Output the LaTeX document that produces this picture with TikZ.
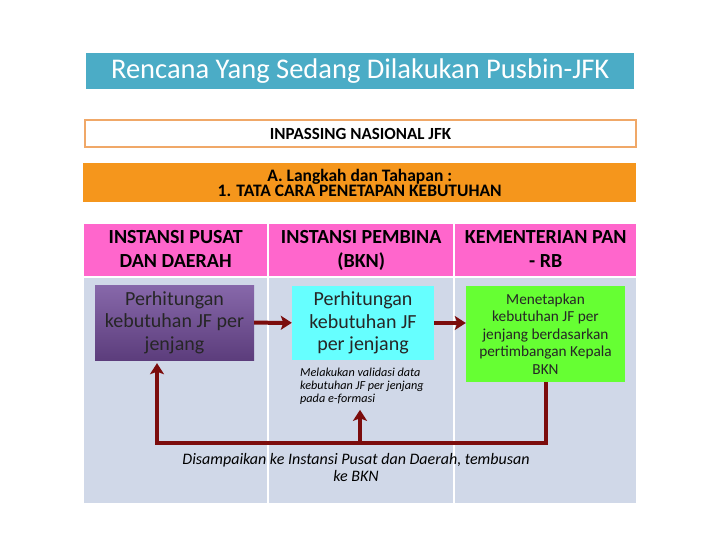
\documentclass[tikz,border=0pt]{standalone}
\usepackage{fontspec}
\setmainfont{Carlito}
\usetikzlibrary{arrows.meta}
\definecolor{titleblue}{HTML}{4BACC6}
\definecolor{inborder}{HTML}{F0A868}
\definecolor{barorange}{HTML}{F5961C}
\definecolor{headpink}{HTML}{FF66CC}
\definecolor{bodygray}{HTML}{D0D8E8}
\definecolor{purpletop}{HTML}{8768AA}
\definecolor{purplebot}{HTML}{5C3D7C}
\definecolor{boxcyan}{HTML}{66FFFF}
\definecolor{boxgreen}{HTML}{66FF33}
\definecolor{flowred}{HTML}{7B0C0C}
\tikzset{
  cell/.style={anchor=north west, inner sep=0pt, align=center},
  hdcell/.style={cell, fill=headpink, minimum height=52pt, font=\fontsize{20}{24}\selectfont\bfseries},
  bdcell/.style={cell, fill=bodygray, minimum height=225pt},
  stepbox/.style={inner sep=0pt, align=center, text=black!85, font=\fontsize{20}{22.5}\selectfont},
  flow/.style={-{Stealth[length=11pt,width=14pt,inset=2.5pt]}, line width=4pt, draw=flowred},
}
\begin{document}
\begin{tikzpicture}[x=1pt,y=-1pt]
\useasboundingbox[fill=white] (0,0) rectangle (720,540);
%heading bars
\node[cell, fill=titleblue, minimum width=548pt, minimum height=36pt, text=white, font=\fontsize{28.5}{30}\selectfont] at (86,53) (title) {Rencana Yang Sedang Dilakukan Pusbin-JFK};
\node[cell, fill=white, draw=inborder, line width=2pt, minimum width=551pt, minimum height=27pt, font=\fontsize{17}{18}\selectfont\bfseries] at (84,119) (inpassing) {INPASSING NASIONAL JFK};
\node[cell, fill=barorange, minimum width=553pt, minimum height=39pt, font=\fontsize{17.5}{15.5}\selectfont\bfseries] at (83,163) (steps) {A. Langkah dan Tahapan :\\1. TATA CARA PENETAPAN KEBUTUHAN};
%table
\node[hdcell, minimum width=183pt] at (84,224) (hdA) {INSTANSI PUSAT\\DAN DAERAH\vphantom{()}};
\node[hdcell, minimum width=184pt] at (269,224) (hdB) {INSTANSI PEMBINA\\(BKN)};
\node[hdcell, minimum width=181pt] at (455,224) (hdC) {KEMENTERIAN PAN\\- RB\vphantom{()}};
\node[bdcell, minimum width=183pt] at (84,278) (bdA) {};
\node[bdcell, minimum width=184pt] at (269,278) (bdB) {};
\node[bdcell, minimum width=181pt] at (455,278) (bdC) {};
%boxes
\node[stepbox, top color=purpletop, bottom color=purplebot, minimum width=159pt, minimum height=75pt] at (174.5,322.5) (purple) {Perhitungan\\kebutuhan JF per\\jenjang};
\node[stepbox, fill=boxcyan, minimum width=142pt, minimum height=74pt] at (363,323) (cyan) {Perhitungan\\kebutuhan JF\\per jenjang};
\node[stepbox, fill=boxgreen, minimum width=159pt, minimum height=96pt, font=\fontsize{15.3}{17.5}\selectfont] at (545.5,334) (green) {Menetapkan\\kebutuhan JF per\\jenjang berdasarkan\\pertimbangan Kepala\\BKN};
\node[anchor=north west, inner sep=0pt, align=left, font=\fontsize{12.2}{13}\selectfont\itshape] at (300,368) (note) {Melakukan validasi data\\kebutuhan JF per jenjang\\pada e-formasi};
\node[align=center, inner sep=0pt, font=\fontsize{16}{17}\selectfont\itshape] at (356,467) (sent) {Disampaikan ke Instansi Pusat dan Daerah, tembusan\\ke BKN};
%connectors
\coordinate (back) at (157,443);
\coordinate (mid) at (360,443);
\draw[flow] (purple) -- (cyan);
\draw[flow] (cyan.east) -- (cyan.east -| green.west);
\draw[flow, shorten >=3pt] (green.south) -- (green.south |- back) -- (back) -- (back |- purple.south);
\draw[flow, shorten >=5pt] (mid) -- (mid |- note.south);
\end{tikzpicture}
\end{document}
